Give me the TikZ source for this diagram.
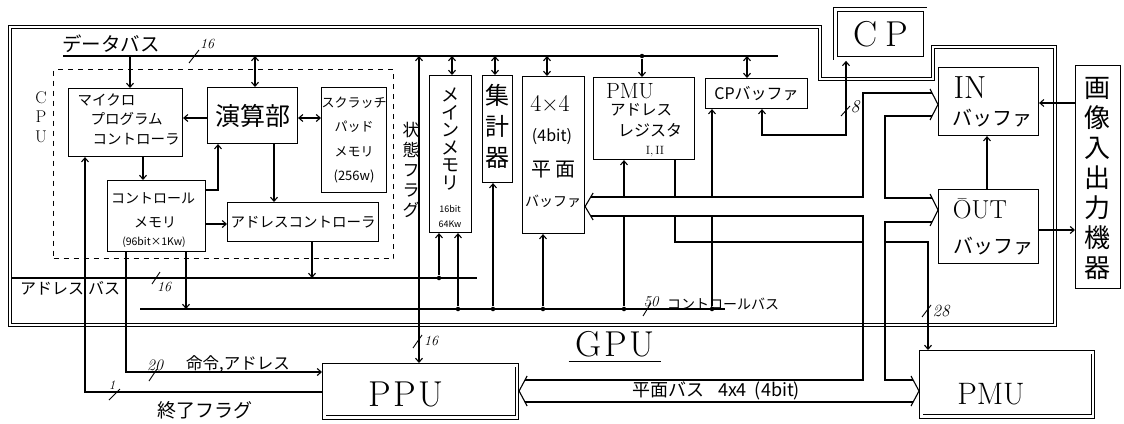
\documentclass[tikz,border=0pt]{standalone}
\usepackage{fontspec}
\newfontfamily\jp{Noto Sans CJK JP}
\usetikzlibrary{arrows.meta,calc}
\newcommand\fsz[2]{\fontsize{#1}{#2}\selectfont}
\begin{document}
\begin{tikzpicture}[x=1pt,y=-1pt,line width=1.1pt,
  >={Straight Barb[length=4pt,width=7pt]},
  box/.style={draw,line width=1.1pt,inner sep=0pt,anchor=north west,align=center},
  dbox/.style={draw,line width=0.9pt,double,double distance=2.6pt,inner sep=0pt,anchor=north west,align=center},
  area/.style={inner sep=0pt,anchor=north west},
  dframe/.style={line width=0.9pt,double,double distance=2.6pt},
  lbl/.style={inner sep=0pt,align=center},
  num/.style={inner sep=0pt,font=\itshape\fsz{#1}{#1}},
  dot/.style={circle,fill,inner sep=0pt,minimum size=4.5pt},
  tick/.style={line width=0.9pt}]
\useasboundingbox (0,0) rectangle (1124,423);
\fill[white] (0,0) rectangle (1124,423);
% GPU frame
\draw[dframe] (10,27) -- (820,27) -- (820,79) -- (933,79) -- (933,47) -- (1055,47) -- (1055,325) -- (10,325) -- cycle;
% CPU dashed box
\node[draw,dash pattern=on 5pt off 5pt,line width=1pt,inner sep=0pt,anchor=north west,minimum width=340pt,minimum height=189pt] (cpu) at (53,69) {};
% boxes
\node[box,minimum width=114pt,minimum height=68pt] (mpc) at (68,88) {};
\node[box,minimum width=90pt,minimum height=56pt,font=\jp\fsz{25}{25}] (alu) at (207,87) {演算部};
\node[box,minimum width=62pt,minimum height=105pt,font=\jp\fsz{13}{24.5}] (spm) at (321,87) {スクラッチ\\パッド\\メモリ\\(256w)};
\node[box,minimum width=98pt,minimum height=71pt] (cm) at (107,180) {};
\node[box,minimum width=151pt,minimum height=39pt,font=\jp\fsz{14.5}{14.5}] (ac) at (227,202) {アドレスコントローラ};
\node[box,minimum width=42pt,minimum height=157pt] (mm) at (429,75) {};
\node[box,minimum width=30pt,minimum height=107pt] (agg) at (482,75) {};
\node[box,minimum width=62pt,minimum height=157pt] (pbuf) at (522,76) {};
\node[box,minimum width=101pt,minimum height=82pt] (par) at (593,77) {};
\node[box,minimum width=102pt,minimum height=30pt,font=\jp\fsz{16}{16}] (cpb) at (705,78) {CPバッファ};
\node[dbox,minimum width=89.6pt,minimum height=48.6pt,font=\fsz{36}{36}] (cp) at (835.2,9.2) {C\hspace{8pt}P};
\node[box,minimum width=100pt,minimum height=68pt] (inb) at (938,67) {};
\node[box,minimum width=100pt,minimum height=74pt] (outb) at (938,189) {};
\node[box,minimum width=45pt,minimum height=223pt] (io) at (1075,65) {};
\node[area,minimum width=191.6pt,minimum height=51pt] (ppu) at (324.2,365.2) {};
\draw[dframe] (ppu.north west) rectangle (ppu.south east);
\node[area,minimum width=170.6pt,minimum height=63pt] (pmu) at (921.2,352.2) {};
\draw[dframe] (pmu.north west) rectangle (pmu.south east);
% texts in boxes
\node[lbl,anchor=north west,align=left,font=\jp\fsz{14.5}{19.5}] (mpct) at (77,93) {マイクロ\\\hspace*{13pt}プログラム\\\hspace*{15pt}コントローラ};
\node[lbl,font=\jp\fsz{14}{14}] (cmt1) at (153,198) {コントロール};
\node[lbl,font=\jp\fsz{14}{14}] (cmt2) at (155,222) {メモリ};
\node[lbl,font=\jp\fsz{10.5}{10.5}] (cmt3) at (154,242) {(96bit×1Kw)};
\node[lbl,font=\jp\fsz{18}{17.6}] (mmt) at (450,139) {メ\\イ\\ン\\メ\\モ\\リ};
\node[lbl,font=\jp\fsz{9}{9}] (mmt2) at (450,209) {16bit};
\node[lbl,font=\jp\fsz{9}{9}] (mmt3) at (450,224) {64Kw};
\node[lbl,font=\jp\fsz{24}{31}] (aggt) at (497,126) {集\\計\\器};
\node[lbl,font=\fsz{24}{24}] (pbt1) at (550,103) {4×4};
\node[lbl,font=\jp\fsz{16}{16}] (pbt2) at (552,137) {(4bit)};
\node[lbl,font=\jp\fsz{20}{20}] (pbt3) at (553,170) {平\hspace{4pt}面};
\node[lbl,font=\jp\fsz{14}{14}] (pbt4) at (553,201) {バッファ};
\node[lbl,font=\fsz{22}{22}] (part1) at (630,91) {PMU};
\node[lbl,font=\jp\fsz{15.5}{15.5}] (part2) at (641,110) {アドレス};
\node[lbl,font=\jp\fsz{16}{16}] (part3) at (650,130) {レジスタ};
\node[lbl,font=\fsz{12}{12}] (part4) at (655,152) {I,\,II};
\node[lbl,font=\fsz{32}{32}] (int1) at (970,88) {IN};
\node[lbl,font=\jp\fsz{20}{20}] (int2) at (992,118) {バッファ};
\node[lbl,font=\fsz{26}{26}] (outt1) at (980,209) {ŌUT};
\node[lbl,font=\jp\fsz{20}{20}] (outt2) at (993,246) {バッファ};
\node[lbl,font=\jp\fsz{26}{30}] (iot) at (1097,178) {画\\像\\入\\出\\力\\機\\器};
\node[lbl,font=\fsz{36}{36}] (ppt) at (406,394) {P\hspace{2pt}P\hspace{2pt}U};
\node[lbl,font=\fsz{31}{31}] (pmt) at (991,394) {PMU};
% free labels
\node[lbl,font=\fsz{36}{36}] (gpu) at (615,344) {G\hspace{3pt}P\hspace{3pt}U};
\draw[line width=1pt] ([shift={(-6,4)}]gpu.south west) -- ([shift={(6,4)}]gpu.south east);
\node[lbl,font=\fsz{17}{19.5}] (cput) at (41,117) {C\\P\\U};
\node[lbl,font=\jp\fsz{19.5}{19.5}] (dbt) at (111,44) {データバス};
\node[num=14] (dbn) at (207,44) {16};
\node[lbl,font=\jp\fsz{16}{16}] (abt) at (70,288) {アドレス\hspace{4pt}バス};
\node[num=14] (abn) at (164,287) {16};
\node[lbl,font=\jp\fsz{17}{20}] (stt) at (411,170) {状\\態\\フ\\ラ\\グ};
\node[num=14] (stn) at (431,341) {16};
\node[num=15] (cbn) at (651,302) {50};
\node[lbl,font=\jp\fsz{14}{14}] (cbt) at (723,304) {コントロールバス};
\node[num=18] (cpn) at (855,107) {8};
\node[num=17] (pmn) at (941,311) {28};
\node[num=16] (ian) at (155,365) {20};
\node[lbl,font=\jp\fsz{16.5}{16.5}] (iat) at (238,364) {命令,アドレス};
\node[num=13] (efn) at (112,385) {1};
\node[lbl,font=\jp\fsz{19}{19}] (eft) at (205,410) {終了フラグ};
\node[lbl,font=\jp\fsz{18}{18}] (pbbt) at (716,391) {平面バス\hspace{14pt}4x4\hspace{8pt}(4bit)};
% bus coordinates
\coordinate (dbL) at (63,56); \coordinate (dbR) at (778,56);
\coordinate (abL) at (12,278); \coordinate (abR) at (477,278);
\coordinate (cbL) at (140,309); \coordinate (cbR) at (725,309);
\coordinate (hU) at (0,197); \coordinate (hL) at (0,216);
\coordinate (vL) at (863,0); \coordinate (vR) at (885,0);
\coordinate (iU) at (0,93); \coordinate (iL) at (0,116);
\coordinate (oU) at (0,198); \coordinate (oL) at (0,222);
\coordinate (pU) at (0,380); \coordinate (pL) at (0,402);
% data bus
\draw (dbL) -- (dbR);
\draw[->] (dbL -| 130,0) -- (mpc.north -| 130,0);
\draw[<->] (dbL -| 255,0) -- (alu.north -| 255,0);
\draw[<->,shorten >=2.2pt] (dbL -| 419,0) -- (ppu.north -| 419,0);
\draw[<->] (dbL -| 452,0) -- (mm.north -| 452,0);
\draw[<->] (dbL -| 495,0) -- (agg.north -| 495,0);
\draw[<->] (dbL -| 547,0) -- (pbuf.north -| 547,0);
\node[dot] (dd1) at (642,56) {};
\draw[->] (dd1) -- (par.north -| dd1);
\draw[<->] (dbL -| 747,0) -- (cpb.north -| 747,0);
% cpu internal
\draw[->] (alu.west |- 0,118) -- (mpc.east |- 0,118);
\draw[<->] (alu.east |- 0,118) -- (spm.west |- 0,118);
\draw[->] (mpc.south -| 143,0) -- (cm.north -| 143,0);
\draw[->] (cm.east |- 0,190) -| (alu.south -| 218,0);
\draw[->] (alu.south -| 274,0) -- (ac.north -| 274,0);
\draw[->] (cm.east |- 0,224) -- (ac.west |- 0,224);
\draw[->] (ac.south -| 312,0) -- (abL -| 312,0);
\draw[->] (cm.south -| 186,0) -- (cbL -| 186,0);
\draw[->,shorten >=2.2pt] (cm.south -| 126,0) |- (ppu.west |- 0,372);
\draw[->] ($(ppu.west |- 0,392)+(-2.2,0)$) -| (mpc.south -| 85,0);
% address bus
\draw (abL) -- (abR);
\node[dot] (ad1) at (439,278) {};
\draw[->] (ad1) -- (mm.south -| ad1);
% control bus
\draw (cbL) -- (cbR);
\node[dot] (cd1) at (458,309) {};
\node[dot] (cd2) at (493,309) {};
\node[dot] (cd3) at (543,309) {};
\node[dot] (cd4) at (624,309) {};
\node[dot] (cd5) at (712,309) {};
\draw[->] (cd1) -- (mm.south -| cd1);
\draw[->] (cd2) -- (agg.south -| cd2);
\draw[->] (cd3) -- (pbuf.south -| cd3);
\draw (cd4) -- (hL -| cd4);
\draw[->] (hU -| cd4) -- (par.south -| cd4);
\draw (cd5) -- (hL -| cd5);
\draw[->] (hU -| cd5) -- (cpb.south -| cd5);
% PMU address register to PMU
\draw (par.south -| 675,0) -- (hU -| 675,0);
\draw (hL -| 675,0) |- (vL |- 0,242);
\draw[->,shorten >=2.2pt] (vR |- 0,242) -| (pmu.north -| 928,0);
% CP buffer <-> CP
\draw[<->,shorten >=2.2pt] (cpb.south -| 762,0) |- (846,135) -- (cp.south -| 846,0);
% IN / OUT / IO
\draw[->] (outb.north -| 987,0) -- (inb.south -| 987,0);
\draw[->] (io.west |- 0,103) -- (inb.east |- 0,103);
\draw[->] (outb.east |- 0,230) -- (io.west |- 0,230);
% wide buses
\draw ($(pbuf.east |- hU)+(5.6,0)$) -| (vL |- iU) -- ($(inb.west |- iU)+(-5.9,0)$);
\draw ($(inb.west |- iL)+(-5.9,0)$) -| (vR |- oU) -- ($(outb.west |- oU)+(-6,0)$);
\draw ($(pbuf.east |- hL)+(5.6,0)$) -| (vL |- pU) -- ($(ppu.east |- pU)+(8.1,0)$);
\draw ($(outb.west |- oL)+(-6,0)$) -| (vR |- pU) -- ($(pmu.west |- pU)+(-8.1,0)$);
\draw ($(ppu.east |- pL)+(8.1,0)$) -- ($(pmu.west |- pL)+(-8.1,0)$);
% chevrons
\draw (pbuf.east |- 0,206.5) ++(8,-13.5) -- ++(-8,13.5) -- ++(8,13.5);
\draw (inb.west |- 0,104.5) ++(-8,-15.5) -- ++(8,15.5) -- ++(-8,15.5);
\draw (outb.west |- 0,210) ++(-8,-16) -- ++(8,16) -- ++(-8,16);
\draw ($(ppu.east |- 0,391)+(2.2,0)$) ++(8,-15) -- ++(-8,15) -- ++(8,15);
\draw ($(pmu.west |- 0,391)+(-2.2,0)$) ++(-8,-15) -- ++(8,15) -- ++(-8,15);
% ticks
\draw[tick] (189,63) -- (199,50);
\draw[tick] (152,284) -- (160,272);
\draw[tick] (413,348) -- (422,335);
\draw[tick] (643,316) -- (651,303);
\draw[tick] (841,116) -- (850,106);
\draw[tick] (922,317) -- (931,305);
\draw[tick] (149,381) -- (157,369);
\draw[tick] (109,400) -- (120,389);
\end{tikzpicture}
\end{document}
